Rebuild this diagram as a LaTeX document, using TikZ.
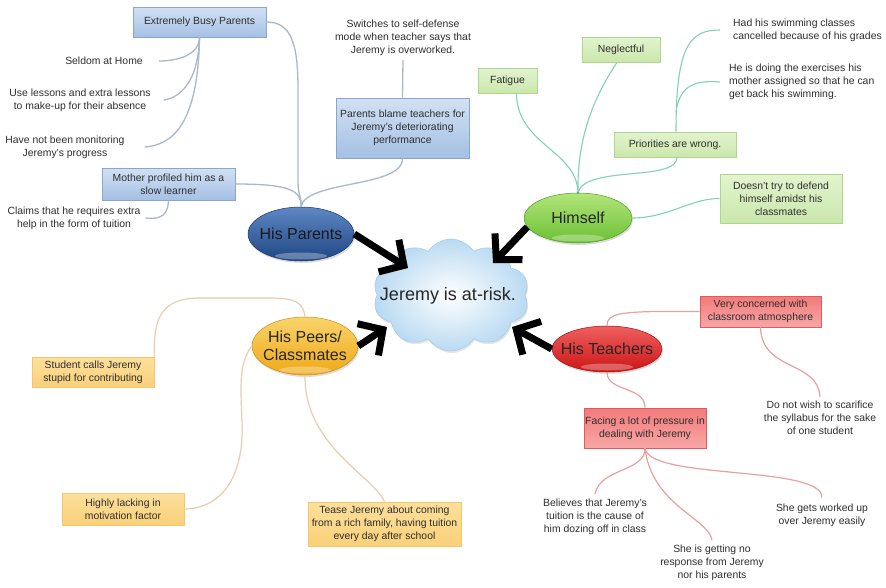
\documentclass[tikz,border=0pt]{standalone}
\usepackage{fontspec}
\setmainfont{Liberation Sans}
\usetikzlibrary{shapes.geometric,shapes.symbols,arrows.meta,shadows,calc}

\definecolor{ink}{HTML}{2E2E2E}
\definecolor{blueline}{HTML}{A9B8CE}
\definecolor{greenline}{HTML}{82D2B4}
\definecolor{tanline}{HTML}{EBCDAE}
\definecolor{redline}{HTML}{EBA0A0}
% box fills
\definecolor{blueTop}{HTML}{D2E1F4}
\definecolor{blueBot}{HTML}{A4C0E4}
\definecolor{blueEdge}{HTML}{8AA6CF}
\definecolor{greenTop}{HTML}{E2F4CF}
\definecolor{greenBot}{HTML}{CAE7AC}
\definecolor{greenEdge}{HTML}{AED68E}
\definecolor{yelTop}{HTML}{FDE09C}
\definecolor{yelBot}{HTML}{FAD07A}
\definecolor{yelEdge}{HTML}{F4C86A}
\definecolor{redTop}{HTML}{F37A7A}
\definecolor{redBot}{HTML}{F8A6A6}
\definecolor{redEdge}{HTML}{E05C5C}
% topic ellipses
\definecolor{parTop}{HTML}{5F87C3}
\definecolor{parBot}{HTML}{1E4683}
\definecolor{himTop}{HTML}{B2E57A}
\definecolor{himBot}{HTML}{6CC035}
\definecolor{peerTop}{HTML}{F9D46A}
\definecolor{peerBot}{HTML}{EFA818}
\definecolor{teaTop}{HTML}{F06060}
\definecolor{teaBot}{HTML}{CC1414}
\definecolor{cloudOut}{HTML}{B9DAF2}
\definecolor{cloudEdge}{HTML}{A9CDEB}

\tikzset{
  leaf/.style={font=\fontsize{10.4}{13}\selectfont, text=ink, align=center, inner sep=0pt},
  box/.style={leaf, rectangle, line width=0.9pt,
    drop shadow={shadow xshift=0.8pt, shadow yshift=-1.2pt, opacity=0.18}},
  bluebox/.style={box, draw=blueEdge, top color=blueTop, bottom color=blueBot},
  greenbox/.style={box, draw=greenEdge, top color=greenTop, bottom color=greenBot},
  yelbox/.style={box, draw=yelEdge, top color=yelTop, bottom color=yelBot},
  redbox/.style={box, draw=redEdge, top color=redTop, bottom color=redBot},
  topic/.style={ellipse, inner xsep=-14pt, inner ysep=-3pt, align=center, text=black!85,
    font=\fontsize{16}{18}\selectfont, line width=0.5pt,
    drop shadow={shadow xshift=1pt, shadow yshift=-2pt, opacity=0.28},
    path picture={\fill[white,opacity=0.3] ([yshift=5pt]path picture bounding box.south)
      ellipse [x radius=26pt, y radius=3.5pt];}},
  blueconn/.style={draw=blueline, line width=1.3pt},
  greenconn/.style={draw=greenline, line width=1.1pt},
  tanconn/.style={draw=tanline, line width=1.2pt},
  redconn/.style={draw=redline, line width=1.2pt},
  bigarrow/.style={line width=7pt, black, -{Straight Barb[length=18pt, width=38pt]}},
}

\begin{document}
\begin{tikzpicture}[x=1pt,y=-1pt]
\fill[white] (0,0) rectangle (886,587);
\useasboundingbox (0,0) rectangle (886,587);

% ---------- central cloud ----------
\node[cloud, cloud puffs=10, cloud puff arc=115, aspect=1.4,
      minimum width=156pt, minimum height=112pt, draw=cloudEdge, line width=0.6pt,
      inner color=white, outer color=cloudOut,
      drop shadow={shadow xshift=1pt, shadow yshift=-2pt, opacity=0.2}]
      (cloud) at (451,295) {};
\node[font=\fontsize{18}{20}\selectfont, text=black!85] (risk) at (448,296) {Jeremy is at-risk.};

% ---------- topics ----------
\node[topic, minimum width=106pt, minimum height=54pt, draw=parBot!80!black,
      top color=parTop, bottom color=parBot, text=black!90] (par) at (301,234) {His Parents};
\node[topic, minimum width=108pt, minimum height=50pt, draw=himBot!80!black,
      top color=himTop, bottom color=himBot] (him) at (578,218) {Himself};
\node[topic, minimum width=106pt, minimum height=58pt, draw=peerBot!85!black,
      top color=peerTop, bottom color=peerBot] (peer) at (305,346) {His Peers/\\Classmates};
\node[topic, minimum width=110pt, minimum height=46pt, draw=teaBot!80!black,
      top color=teaTop, bottom color=teaBot] (tea) at (607,349) {His Teachers};

% ---------- parents branch ----------
\node[bluebox, minimum width=133pt, minimum height=30pt] (busy) at (199.5,22) {Extremely Busy Parents};
\node[bluebox, minimum width=133pt, minimum height=32pt] (mother) at (168.5,184) {Mother profiled him as a\\slow learner};
\node[bluebox, minimum width=133pt, minimum height=60pt] (blame) at (402.5,128) {Parents blame teachers for\\Jeremy's deteriorating\\performance};
\node[leaf] (seldom) at (104,61) {Seldom at Home};
\node[leaf] (lessons) at (80,100) {Use lessons and extra lessons\\to make-up for their absence};
\node[leaf] (monitor) at (65,147) {Have not been monitoring\\Jeremy's progress};
\node[leaf] (claims) at (74,218) {Claims that he requires extra\\help in the form of tuition};
\node[leaf] (switch) at (403,38) {Switches to self-defense\\mode when teacher says that\\Jeremy is overworked.};

\draw[blueconn] (busy.south) .. controls (199,55) and (178,61) .. ([xshift=16pt]seldom.east);
\draw[blueconn] (busy.south) .. controls (198,85) and (178,98) .. ([xshift=13pt]lessons.east);
\draw[blueconn] (busy.south) .. controls (198,125) and (172,145) .. ([xshift=20pt]monitor.east);
\draw[blueconn] (busy.east) .. controls (292,22) and (298,45) .. (298,90)
   -- (298,182) .. controls (298,195) and (302,198) .. (par.north);
\draw[blueconn] (mother.east) .. controls (288,184) and (302,190) .. (par.north);
\draw[blueconn] (blame.south) .. controls (403,188) and (306,180) .. (par.north);
\draw[blueconn] (switch.south) ++(0,4) -- (blame.north);
\draw[blueconn] (mother.south) .. controls (168,214) and (162,220) .. ([xshift=5pt]claims.east);

% ---------- himself branch ----------
\node[greenbox, minimum width=59pt, minimum height=25pt] (fatigue) at (507.5,80.5) {Fatigue};
\node[greenbox, minimum width=78pt, minimum height=25pt] (neglect) at (621,49.5) {Neglectful};
\node[greenbox, minimum width=122pt, minimum height=25pt] (prior) at (675,144.5) {Priorities are wrong.};
\node[greenbox, minimum width=122pt, minimum height=49pt] (defend) at (781,198.5) {Doesn't try to defend\\himself amidst his\\classmates};
\node[leaf, anchor=west, align=left] (swim) at (733,30) {Had his swimming classes\\cancelled because of his grades};
\node[leaf, anchor=west, align=left] (exer) at (729,82) {He is doing the exercises his\\mother assigned so that he can\\get back his swimming.};

\draw[greenconn] ([xshift=9pt]fatigue.south) .. controls (517,145) and (577,150) .. (him.north);
\draw[greenconn] ([xshift=-4pt]neglect.south) .. controls (592,100) and (577,140) .. (him.north);
\draw[greenconn] ([xshift=2pt]prior.south) .. controls (677,182) and (585,165) .. (him.north);
\draw[greenconn] ([xshift=1pt]prior.north) .. controls (676,45) and (690,30) .. ([xshift=-13pt]swim.west);
\draw[greenconn] ([xshift=1pt]prior.north) ++(0,-20) .. controls (680,85) and (695,80) .. ([xshift=-9pt]exer.west);
\draw[greenconn] (defend.west) .. controls (692,198) and (668,218) .. (him.east);
\fill[greenline!80!black] (him.north) circle (1.4pt);

% ---------- peers branch ----------
\node[yelbox, minimum width=122pt, minimum height=30pt] (stupid) at (93,372) {Student calls Jeremy\\stupid for contributing};
\node[yelbox, minimum width=122pt, minimum height=32pt] (motiv) at (123,509) {Highly lacking in\\motivation factor};
\node[yelbox, minimum width=153pt, minimum height=44pt] (tease) at (384.5,524) {Tease Jeremy about coming\\from a rich family, having tuition\\every day after school};

\draw[tanconn] (peer.north) .. controls (303,302) and (295,298) .. (270,298)
   -- (200,298) .. controls (160,298) and (153,320) .. (stupid.north east);
\draw[tanconn] (peer.west) .. controls (240,362) and (240,380) .. (242,420)
   .. controls (245,485) and (215,509) .. (motiv.east);
\draw[tanconn] (peer.south) .. controls (304,445) and (372,475) .. (tease.north);

% ---------- teachers branch ----------
\node[redbox, minimum width=121pt, minimum height=31pt] (concern) at (760.5,311.5) {Very concerned with\\classroom atmosphere};
\node[redbox, minimum width=122pt, minimum height=40pt] (press) at (645,428) {Facing a lot of pressure in\\dealing with Jeremy};
\node[leaf] (syll) at (820,418) {Do not wish to scarifice\\the syllabus for the sake\\of one student};
\node[leaf] (doze) at (595,517) {Believes that Jeremy's\\tuition is the cause of\\him dozing off in class};
\node[leaf] (worked) at (822,515) {She gets worked up\\over Jeremy easily};
\node[leaf] (resp) at (712,563) {She is getting no\\response from Jeremy\\nor his parents};

\draw[redconn] (tea.north) .. controls (607,312) and (622,311) .. (concern.west);
\draw[redconn] (concern.south) .. controls (762,372) and (818,360) .. ([yshift=4pt]syll.north);
\draw[redconn] (tea.south) .. controls (607,392) and (645,386) .. (press.north);
\draw[redconn] (press.south) .. controls (645,472) and (600,468) .. ([yshift=5pt]doze.north);
\draw[redconn] (press.south) .. controls (650,480) and (822,465) .. ([yshift=6pt]worked.north);
\draw[redconn] (press.south) .. controls (652,505) and (708,518) .. ([yshift=5pt]resp.north);

% ---------- arrows into the cloud ----------
\draw[bigarrow] (par.east) -- ($(cloud.center)+(-43,-27)$);
\draw[bigarrow] (him.190) -- ($(cloud.center)+(42,-32)$);
\draw[bigarrow] (peer.east) -- ($(cloud.center)+(-64,32)$);
\draw[bigarrow] (tea.west) -- ($(cloud.center)+(61,32)$);
\end{tikzpicture}
\end{document}
